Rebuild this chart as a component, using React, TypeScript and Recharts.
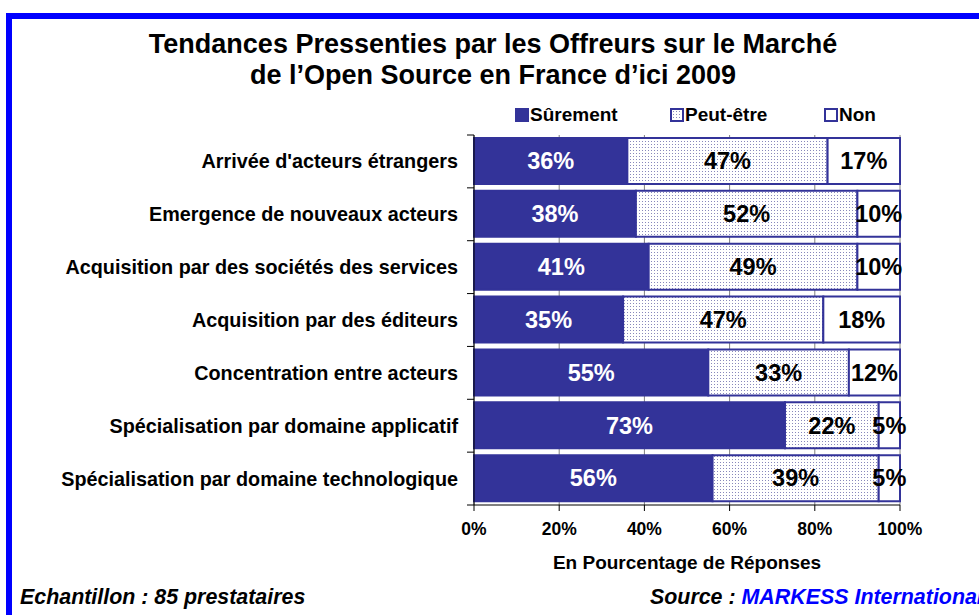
import React from "react";
import {
  BarChart,
  Bar,
  XAxis,
  YAxis,
  CartesianGrid,
  LabelList,
} from "recharts";

const categories = [
  "Arrivée d'acteurs étrangers",
  "Emergence de nouveaux acteurs",
  "Acquisition par des sociétés des services",
  "Acquisition par des éditeurs",
  "Concentration entre acteurs",
  "Spécialisation par domaine applicatif",
  "Spécialisation par domaine technologique",
];
const surement = [36, 38, 41, 35, 55, 73, 56];
const peutEtre = [47, 52, 49, 47, 33, 22, 39];
const non = [17, 10, 10, 18, 12, 5, 5];
const xTicks = [0, 20, 40, 60, 80, 100];

const data = categories.map((name, i) => ({
  name,
  surement: surement[i],
  peutEtre: peutEtre[i],
  non: non[i],
}));

const FONT = "'Liberation Sans', Arial, sans-serif";
const NAVY = "#333399";
const DOT = "#8888bb";
const BAND = 370 / 7;

const YTick = (props: any) => {
  const { x, y, payload, index } = props;
  return (
    <g>
      <line x1={x + 9} x2={x + 16} y1={y - BAND / 2} y2={y - BAND / 2} stroke="#000" />
      {index === categories.length - 1 && (
        <line x1={x + 9} x2={x + 16} y1={y + BAND / 2} y2={y + BAND / 2} stroke="#000" />
      )}
      <text
        x={x}
        y={y}
        dy="0.35em"
        textAnchor="end"
        fontFamily={FONT}
        fontWeight="bold"
        fontSize={19.8}
        fill="#000"
      >
        {payload.value}
      </text>
    </g>
  );
};

const pct = (v: any) => `${v}%`;

const LegendBox = ({ x, fill, label }: { x: number; fill: string; label: string }) => (
  <div style={{ position: "absolute", left: x, top: 104, display: "flex", alignItems: "center" }}>
    <svg width={15} height={14} style={{ marginRight: 0 }}>
      <defs>
        <pattern id={"lg" + x} width={3} height={3} patternUnits="userSpaceOnUse">
          <rect width={3} height={3} fill="#fff" />
          <rect width={1} height={1} fill={DOT} />
        </pattern>
      </defs>
      <rect x={1} y={1} width={12} height={12} fill={fill === "pattern" ? `url(#lg${x})` : fill} stroke={NAVY} strokeWidth={2} />
    </svg>
    <span style={{ fontFamily: FONT, fontWeight: "bold", fontSize: 19, lineHeight: "22px" }}>{label}</span>
  </div>
);

export default function App() {
  return (
    <div
      style={{
        position: "absolute",
        left: 0,
        top: 0,
        width: 979,
        height: 615,
        overflow: "hidden",
        background: "#fff",
      }}
    >
      <div style={{ position: "absolute", left: 6, top: 13, width: 973, height: 6, background: "#0000ff" }} />
      <div style={{ position: "absolute", left: 6, top: 13, width: 6, height: 602, background: "#0000ff" }} />

      <div
        style={{
          position: "absolute",
          left: 0,
          top: 29,
          width: 986,
          textAlign: "center",
          fontFamily: FONT,
          fontWeight: "bold",
          fontSize: 27,
          lineHeight: "31px",
        }}
      >
        Tendances Pressenties par les Offreurs sur le Marché
        <br />
        de l’Open Source en France d’ici 2009
      </div>

      <LegendBox x={515} fill={NAVY} label="Sûrement" />
      <LegendBox x={670} fill="pattern" label="Peut-être" />
      <LegendBox x={824} fill="#fff" label="Non" />

      <div style={{ position: "absolute", left: 0, top: 0 }}>
        <BarChart
          width={979}
          height={615}
          data={data}
          layout="vertical"
          margin={{ top: 135, right: 79, bottom: 43, left: 0 }}
          barSize={46}
        >
          <defs>
            <pattern id="dots" width={3} height={3} patternUnits="userSpaceOnUse">
              <rect width={3} height={3} fill="#fff" />
              <rect width={1} height={1} fill={DOT} />
            </pattern>
          </defs>
          <CartesianGrid horizontal={false} stroke="#808080" />
          <XAxis
            type="number"
            domain={[0, 100]}
            ticks={xTicks}
            tickFormatter={pct}
            height={67}
            tickSize={6}
            tickMargin={12}
            stroke="#000"
            tick={{ fill: "#000", fontFamily: FONT, fontWeight: "bold", fontSize: 17.5 }}
            label={{
              value: "En Pourcentage de Réponses",
              position: "insideBottom",
              offset: 3,
              fill: "#000",
              fontFamily: FONT,
              fontWeight: "bold",
              fontSize: 19,
            }}
          />
          <XAxis
            xAxisId="top"
            orientation="top"
            type="number"
            domain={[0, 100]}
            height={0}
            tick={false}
            tickLine={false}
            stroke="#808080"
          />
          <YAxis
            type="category"
            dataKey="name"
            width={474}
            tickSize={7}
            tickMargin={9}
            tickLine={false}
            stroke="#000"
            tick={<YTick />}
          />
          <Bar dataKey="surement" stackId="a" fill={NAVY} stroke={NAVY} strokeWidth={2} isAnimationActive={false}>
            <LabelList dataKey="surement" position="center" formatter={pct} fill="#fff" fontFamily={FONT} fontWeight="bold" fontSize={23.5} />
          </Bar>
          <Bar dataKey="peutEtre" stackId="a" fill="url(#dots)" stroke={NAVY} strokeWidth={2} isAnimationActive={false}>
            <LabelList dataKey="peutEtre" position="center" formatter={pct} fill="#000" fontFamily={FONT} fontWeight="bold" fontSize={23.5} />
          </Bar>
          <Bar dataKey="non" stackId="a" fill="#fff" stroke={NAVY} strokeWidth={2} isAnimationActive={false}>
            <LabelList dataKey="non" position="center" formatter={pct} fill="#000" fontFamily={FONT} fontWeight="bold" fontSize={23.5} />
          </Bar>
        </BarChart>
      </div>

      <div
        style={{
          position: "absolute",
          left: 20,
          top: 585,
          fontFamily: FONT,
          fontWeight: "bold",
          fontStyle: "italic",
          fontSize: 21.4,
          whiteSpace: "nowrap",
        }}
      >
        Echantillon : 85 prestataires
      </div>
      <div
        style={{
          position: "absolute",
          left: 650,
          top: 585,
          fontFamily: FONT,
          fontWeight: "bold",
          fontStyle: "italic",
          fontSize: 21.4,
          whiteSpace: "nowrap",
        }}
      >
        Source : <span style={{ color: "#0000ff" }}>MARKESS International</span>
      </div>
    </div>
  );
}
